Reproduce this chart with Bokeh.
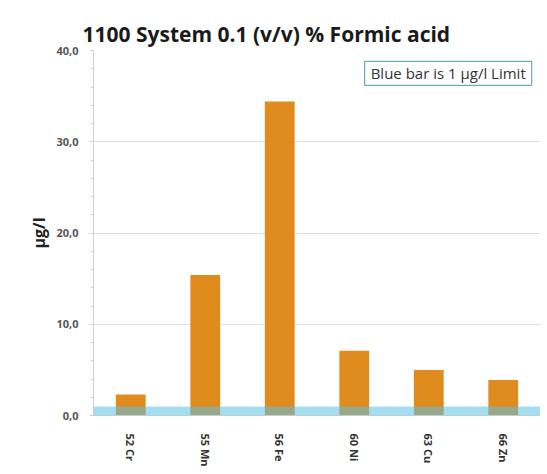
import math
from bokeh.plotting import figure
from bokeh.models import ColumnDataSource, FixedTicker, BoxAnnotation, Label, Range1d
from bokeh.embed import file_html
from bokeh.resources import INLINE

elements = ["52  Cr", "55  Mn", "56  Fe", "60  Ni", "63  Cu", "66  Zn"]
values = [2.3, 15.4, 34.4, 7.1, 5.0, 3.9]
limit = 1.0
y_ticks = [0, 10, 20, 30, 40]
y_tick_labels = ["0,0", "10,0", "20,0", "30,0", "40,0"]

FONT = "Open Sans"

p = figure(x_range=elements, y_range=Range1d(0, 40), frame_width=447, frame_height=365,
           output_backend="svg", toolbar_location=None,
           min_border_left=93, min_border_right=0, min_border_top=50, min_border_bottom=58)
p.x_range.range_padding = 0
p.outline_line_color = None

p.title.text = "1100 System 0.1 (v/v) % Formic acid"
p.title.align = "left"
p.title.offset = -11
p.title.text_font = FONT
p.title.text_font_size = "21px"
p.title.text_font_style = "bold"
p.title.text_color = "#1a1a1a"
p.title.standoff = 6

src = ColumnDataSource(dict(x=elements, top=values))
p.vbar(x="x", top="top", width=0.4, source=src, fill_color="#e08b1e", line_color=None)

band = BoxAnnotation(bottom=0, top=limit, fill_color="#5cc3e6", fill_alpha=0.55, line_color=None)
p.add_layout(band)

yax = p.yaxis[0]
yax.ticker = FixedTicker(ticks=y_ticks, minor_ticks=[x for x in range(0, 41, 2)])
yax.major_label_overrides = {t: l for t, l in zip(y_ticks, y_tick_labels)}
yax.axis_line_color = "#d0d0d0"
yax.major_tick_line_color = "#d0d0d0"
yax.minor_tick_line_color = "#d0d0d0"
yax.major_tick_out = 4
yax.major_tick_in = 0
yax.minor_tick_out = 3
yax.minor_tick_in = 0
yax.major_label_text_font = FONT
yax.major_label_text_font_size = "11px"
yax.major_label_text_font_style = "bold"
yax.major_label_text_color = "#555555"
yax.major_label_standoff = 11
yax.axis_label = "µg/l"
yax.axis_label_text_font = FONT
yax.axis_label_text_font_size = "16px"
yax.axis_label_text_font_style = "bold"
yax.axis_label_text_color = "#222222"
yax.axis_label_standoff = 3

xax = p.xaxis[0]
xax.axis_line_color = "#d0d0d0"
xax.major_tick_line_color = None
xax.minor_tick_line_color = None
xax.major_label_orientation = -math.pi / 2
xax.major_label_text_font = FONT
xax.major_label_text_font_size = "11px"
xax.major_label_text_font_style = "bold"
xax.major_label_text_color = "#333333"
xax.major_label_standoff = 12

p.xgrid.grid_line_color = None
p.ygrid.grid_line_color = "#e0e0e0"

note = Label(x=3.64, y=37.5, text="Blue bar is 1 µg/l Limit",
             text_font=FONT, text_font_size="15px", text_color="#333333",
             text_baseline="middle", text_align="left",
             border_line_color="#4a9aa0", border_line_width=1,
             background_fill_color="white",
             padding=dict(left=6, right=6, top=2, bottom=2))
p.add_layout(note)

open("out.html", "w").write(file_html(p, INLINE))
